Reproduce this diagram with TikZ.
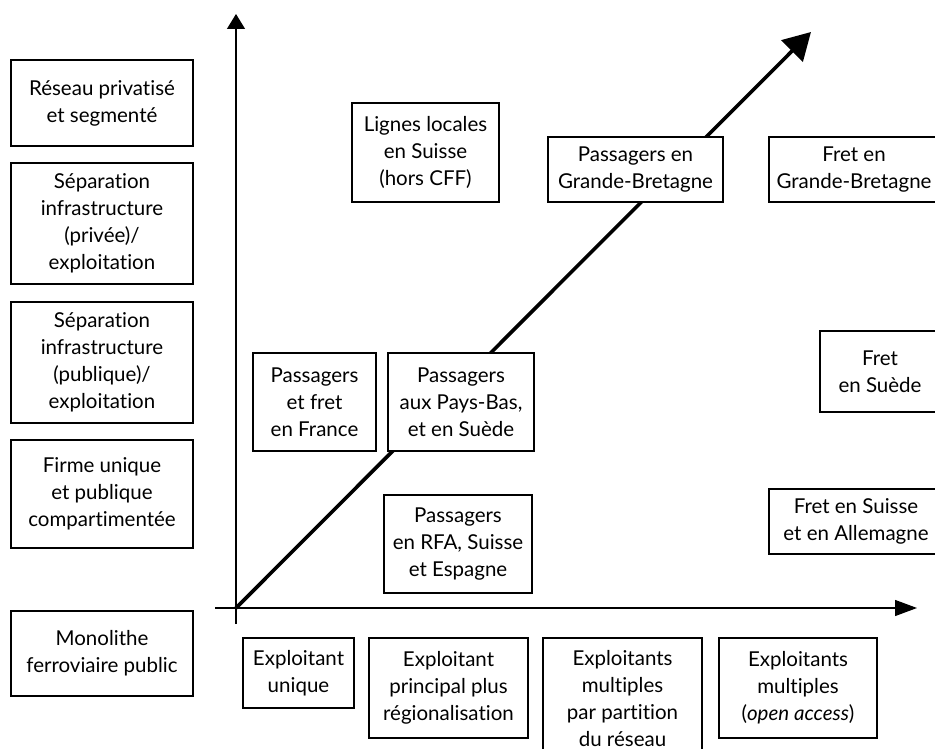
\documentclass[tikz,border=0pt]{standalone}
\usepackage{fontspec}
\setmainfont{Lato}[Ligatures={NoCommon}]
\usetikzlibrary{arrows.meta}
\begin{document}
\begin{tikzpicture}[x=1pt,y=-1pt,
  box/.style={draw, line width=1.2pt, fill=white, align=center, inner sep=0pt,
    font=\fontsize{20.5}{27}\selectfont},
  axisline/.style={line width=1.3pt},
  diag/.style={line width=3.6pt},
]
\useasboundingbox (0,0) rectangle (935,749);
\clip (0,0) rectangle (935,749);

\coordinate (O) at (236,608);
\coordinate (ytip) at (236,14);
\coordinate (ybot) at (236,624);
\coordinate (xstart) at (215,608);
\coordinate (xtip) at (917,608);
\coordinate (dtip) at (811,32);

\draw[axisline, -{Triangle[length=15pt,width=18pt]}] (ybot) -- (ytip);
\draw[axisline, -{Triangle[length=22pt,width=16pt]}] (xstart) -- (xtip);
\draw[diag, -{Triangle[length=27pt,width=30pt]}] (O) -- (dtip);

% left column
\node[box, minimum width=182pt, minimum height=86pt] (l1) at (102,103) {Réseau privatisé\\et segmenté};
\node[box, minimum width=182pt, minimum height=121pt] (l2) at (102,223.5) {Séparation\\infrastructure\\(privée)/\\exploitation};
\node[box, minimum width=182pt, minimum height=121pt] (l3) at (102,362.5) {Séparation\\infrastructure\\(publique)/\\exploitation};
\node[box, minimum width=182pt, minimum height=108pt] (l4) at (102,494) {Firme unique\\et publique\\compartimentée};
\node[box, minimum width=182pt, minimum height=85pt] (l5) at (102,653.5) {Monolithe\\ferroviaire public};

% middle
\node[box, minimum width=147pt, minimum height=99pt] (lig) at (425.5,152.5) {Lignes locales\\en Suisse\\(hors CFF)};
\node[box, minimum width=175pt, minimum height=65pt] (pgb) at (635.5,169.5) {Passagers en\\Grande-Bretagne};
\node[box, minimum width=170pt, minimum height=65pt] (fgb) at (854,169.5) {Fret en\\Grande-Bretagne};
\node[box, minimum width=120pt, minimum height=81pt] (fsu) at (880,371.5) {Fret\\en Suède};
\node[box, minimum width=174pt, minimum height=65pt] (fsa) at (856,521.5) {Fret en Suisse\\et en Allemagne};
\node[box, minimum width=123pt, minimum height=98pt] (pff) at (314.5,402) {Passagers\\et fret\\en France};
\node[box, minimum width=146pt, minimum height=98pt] (ppb) at (461,402) {Passagers\\aux Pays-Bas,\\et en Suède};
\node[box, minimum width=148pt, minimum height=98pt] (prfa) at (458,544) {Passagers\\en RFA, Suisse\\et Espagne};

% bottom
\node[box, minimum width=111pt, minimum height=70pt] (eu) at (298.5,673) {Exploitant\\unique};
\node[box, minimum width=159pt, minimum height=100pt] (epr) at (448.5,688) {Exploitant\\principal plus\\régionalisation};
\node[box, minimum width=159pt, minimum height=122pt] (emp) at (622.5,699) {Exploitants\\multiples\\par partition\\du réseau};
\node[box, minimum width=158pt, minimum height=100pt] (eoa) at (798,688) {Exploitants\\multiples\\(\textit{open access})};
\end{tikzpicture}
\end{document}
